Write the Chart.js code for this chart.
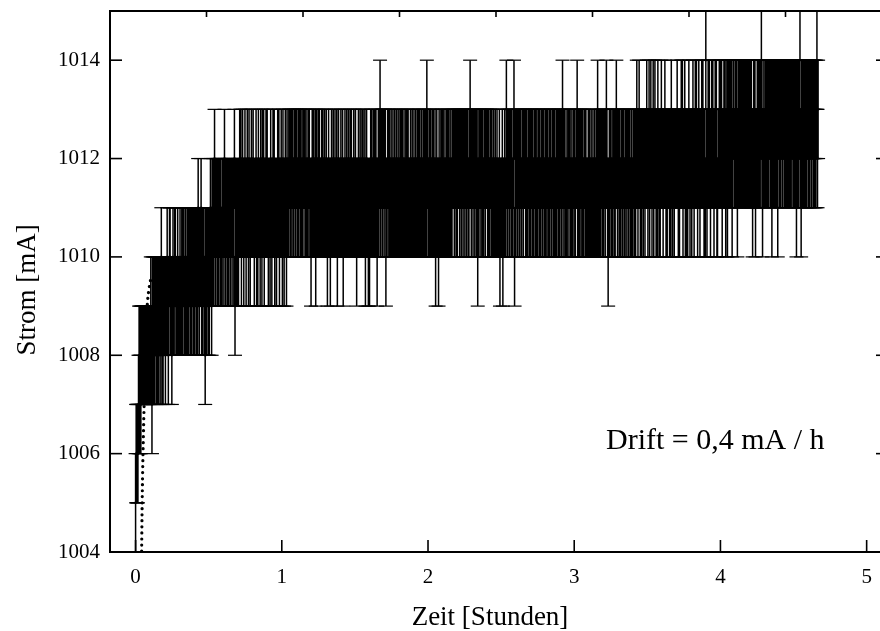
<!DOCTYPE html>
<html>
<head>
<meta charset="utf-8">
<title>Strom-Drift</title>
<script src="https://cdn.jsdelivr.net/npm/chart.js@4.4.1/dist/chart.umd.min.js"></script>
<style>
  html, body { margin: 0; padding: 0; background: #fff; overflow: hidden; width: 880px; height: 631px; }
  #wrap { position: absolute; left: 0; top: 0; width: 886px; height: 631px; }
  canvas { display: block; }
</style>
</head>
<body>
<div id="wrap"><canvas id="c" width="886" height="631"></canvas></div>
<script>
// Jede Ziffer ist ein Ablesewert: 0 = 1005 mA, 1 = 1006 mA, ... 9 = 1014 mA.
const MESSTAKT_H = 0.004;
const MESSFEHLER_MA = 1;
const WERT_BASIS_MA = 1005;

const STUNDE_0 = `
01111 23232 33333 33333 33333
34324 34344 34343 44345 34344
43445 43455 44345 44554 44544
45445 45544 54454 54554 54554
54554 54654 55645 45543 54554
54565 46565 76566 56566 56556
65765 66565 66566 56657 46565
65676 75676 56765 67657 65676
67656 67565 76657 65767 56676
76566 57656 76756 65676 75667`;

const STUNDE_1 = `
65765 67657 66776 76776 67767
76676 77676 67767 76676 67766
56767 66757 66767 66676 76676
67656 76656 76676 67667 56766
67667 56676 67667 66767 66676
67656 67667 66767 66756 76656
56767 66767 67656 76786 77677
67756 67767 66766 76676 67667
66767 67667 66767 67666 76676
67667 66767 67667 66767 67687`;

const STUNDE_2 = `
66767 66767 66756 76657 66767
67667 66767 67667 66777 67767
67776 77677 67767 76776 67876
77677 67767 56776 77676 67767
77676 67767 66766 76676 66756
66756 67668 76776 77676 67857
67767 76776 67767 77676 67767
67767 66776 76677 67667 76776
67677 66767 76677 67667 67767
67767 86776 67667 76776 67667`;

const STUNDE_3 = `
76677 86767 67767 66776 76667
67667 66766 76676 86767 67767
67767 87656 76776 67767 67876
77676 67767 76677 67767 76676
67767 67876 78767 67767 76778
76786 78767 86787 67687 67678
77677 87676 77767 68767 76777
78767 67787 86778 67676 78767
76787 67878 76787 67787 87676
97678 78767 87876 78786 67787`;

const STUNDE_4 = `
87867 78786 78687 87878 67887
78786 78787 87878 78787 87878
78787 67878 67787 87878 97687
78787 87878 87868 78787 87868
87878 87887 87878 78787 87887
87878 68787 89768 78787 87878
87878 87887 87878 978`;

// Angepasste Einschwingkurve (gepunktet) in den ersten Minuten
const FIT_ZEIT_H   = [0.041, 0.045, 0.050, 0.056, 0.062, 0.068, 0.074, 0.082, 0.092, 0.104, 0.112];
const FIT_STROM_MA = [1003.9, 1005.0, 1005.9, 1006.7, 1007.4, 1008.1, 1008.7, 1009.1, 1009.35, 1009.55, 1009.62];

// Achsen
const X_MIN_H = -0.175, X_MAX_H = 5.105;
const Y_MIN_MA = 1004, Y_MAX_MA = 1015;
const SEKUNDEN_PRO_STUNDE = 3600;
const TITEL_X = 'Zeit [Stunden]';
const TITEL_Y = 'Strom [mA]';
const ANMERKUNG = 'Drift = 0,4 mA / h';

const ziffern = [STUNDE_0, STUNDE_1, STUNDE_2, STUNDE_3, STUNDE_4].join('').replace(/\s+/g, '');
const zeitH = [];
const stromMA = [];
for (let i = 0; i < ziffern.length; i++) {
  zeitH.push(Math.round(i * MESSTAKT_H * 10000) / 10000);
  stromMA.push(WERT_BASIS_MA + Number(ziffern[i]));
}

// Fehlerbalken als unterbrochene Linie: unten -> oben -> Lücke
const balken = [];
const kappen = [];
const punkte = [];
zeitH.forEach((t, i) => {
  const v = stromMA[i];
  balken.push({x: t, y: v - MESSFEHLER_MA}, {x: t, y: v + MESSFEHLER_MA}, {x: t, y: null});
  kappen.push({x: t, y: v - MESSFEHLER_MA}, {x: t, y: v + MESSFEHLER_MA});
  punkte.push({x: t, y: v});
});
const fitKurve = FIT_ZEIT_H.map((t, i) => ({x: t, y: FIT_STROM_MA[i]}));

const SERIF = '"Liberation Serif", "Times New Roman", serif';

// Nach innen zeigende Teilstriche an allen vier Rahmenseiten
const innenStriche = {
  id: 'innenStriche',
  afterDraw(chart) {
    const {ctx, chartArea: a, scales} = chart;
    const ganz = v => Math.abs(v - Math.round(v)) < 1e-6;
    ctx.save();
    ctx.strokeStyle = '#000';
    ctx.lineWidth = 1.6;
    const strich = (x1, y1, x2, y2) => { ctx.beginPath(); ctx.moveTo(x1, y1); ctx.lineTo(x2, y2); ctx.stroke(); };
    scales.x.ticks.forEach(t => {
      const p = scales.x.getPixelForValue(t.value);
      strich(p, a.bottom, p, a.bottom - (ganz(t.value) ? 12 : 6));
    });
    scales.y.ticks.forEach(t => {
      if (t.value <= Y_MIN_MA || t.value >= Y_MAX_MA) return;
      const p = scales.y.getPixelForValue(t.value);
      strich(a.left, p, a.left + (t.value % 2 === 0 ? 12 : 6), p);
    });
    scales.xTop.ticks.forEach(t => {
      const p = scales.xTop.getPixelForValue(t.value);
      strich(p, a.top, p, a.top + (t.value % 5000 === 0 ? 12 : 6));
    });
    scales.yRight.ticks.forEach(t => {
      if (t.value <= Y_MIN_MA || t.value >= Y_MAX_MA) return;
      const p = scales.yRight.getPixelForValue(t.value);
      strich(a.right, p, a.right - 6, p);
    });
    ctx.restore();
  }
};

// Achsentitel und Anmerkung
const beschriftung = {
  id: 'beschriftung',
  afterDraw(chart) {
    const {ctx} = chart;
    ctx.save();
    ctx.fillStyle = '#000';
    ctx.font = '27px ' + SERIF;
    ctx.textAlign = 'center';
    ctx.textBaseline = 'middle';
    ctx.fillText(TITEL_X, 490, 617.5);
    ctx.translate(28, 290);
    ctx.rotate(-Math.PI / 2);
    ctx.fillText(TITEL_Y, 0, 0);
    ctx.restore();

    ctx.save();
    ctx.fillStyle = '#000';
    ctx.font = '30px ' + SERIF;
    ctx.textAlign = 'left';
    ctx.textBaseline = 'alphabetic';
    ctx.fillText(ANMERKUNG, 606, 449);
    ctx.restore();
  }
};

const schwarz = '#000';
const rahmen = {display: true, color: schwarz, width: 2};
// feste Randbreiten, ohne zusätzlichen Beschriftungsabstand
const festerRand = (groesse) => (s) => {
  if (s.isHorizontal()) s.height = groesse; else s.width = groesse;
  s.paddingTop = 0; s.paddingBottom = 0; s.paddingLeft = 0; s.paddingRight = 0;
};

new Chart(document.getElementById('c'), {
  type: 'line',
  data: {
    datasets: [
      {
        label: 'Anpassung',
        data: fitKurve,
        borderColor: schwarz,
        borderWidth: 3.2,
        borderDash: [0.01, 6],
        borderCapStyle: 'round',
        pointRadius: 0,
        cubicInterpolationMode: 'monotone',
        order: 10
      },
      {
        label: 'Fehlerbalken',
        data: balken,
        borderColor: schwarz,
        borderWidth: 1.5,
        pointRadius: 0,
        spanGaps: false,
        tension: 0,
        order: 2
      },
      {
        type: 'scatter',
        label: 'Kappen',
        data: kappen,
        pointStyle: 'line',
        pointRadius: 7,
        pointBorderWidth: 1.2,
        pointBorderColor: schwarz,
        order: 1
      },
      {
        type: 'scatter',
        label: 'Messwerte',
        data: punkte,
        pointStyle: 'rect',
        pointRadius: 1.5,
        pointBorderWidth: 0,
        pointBackgroundColor: schwarz,
        order: 0
      }
    ]
  },
  options: {
    responsive: false,
    animation: false,
    devicePixelRatio: 1,
    events: [],
    layout: {padding: 0, autoPadding: false},
    plugins: {legend: {display: false}, tooltip: {enabled: false}},
    scales: {
      x: {
        type: 'linear', position: 'bottom', min: X_MIN_H, max: X_MAX_H, offset: false,
        grid: {display: false, drawTicks: false},
        border: rahmen,
        ticks: {
          stepSize: 0.5, includeBounds: false, autoSkip: false, maxRotation: 0, padding: 13,
          color: schwarz, font: {family: SERIF, size: 21},
          callback: v => (Math.abs(v - Math.round(v)) < 1e-6 ? String(Math.round(v)) : null)
        },
        title: {display: false},
        afterFit: festerRand(79)
      },
      y: {
        type: 'linear', position: 'left', min: Y_MIN_MA, max: Y_MAX_MA,
        grid: {display: false, drawTicks: false},
        border: rahmen,
        ticks: {
          stepSize: 1, autoSkip: false, padding: 10, color: schwarz,
          font: {family: SERIF, size: 21},
          callback: v => (v % 2 === 0 ? String(v) : null)
        },
        title: {display: false},
        afterFit: festerRand(110)
      },
      xTop: {
        type: 'linear', position: 'top',
        min: X_MIN_H * SEKUNDEN_PRO_STUNDE, max: X_MAX_H * SEKUNDEN_PRO_STUNDE,
        grid: {display: false, drawTicks: false},
        border: rahmen,
        ticks: {display: false, stepSize: 2500, includeBounds: false},
        afterFit: festerRand(11)
      },
      yRight: {
        type: 'linear', position: 'right', min: Y_MIN_MA, max: Y_MAX_MA,
        grid: {display: false, drawTicks: false},
        border: rahmen,
        ticks: {display: false, stepSize: 2},
        afterFit: festerRand(4)
      }
    }
  },
  plugins: [innenStriche, beschriftung]
});
</script>
</body>
</html>
